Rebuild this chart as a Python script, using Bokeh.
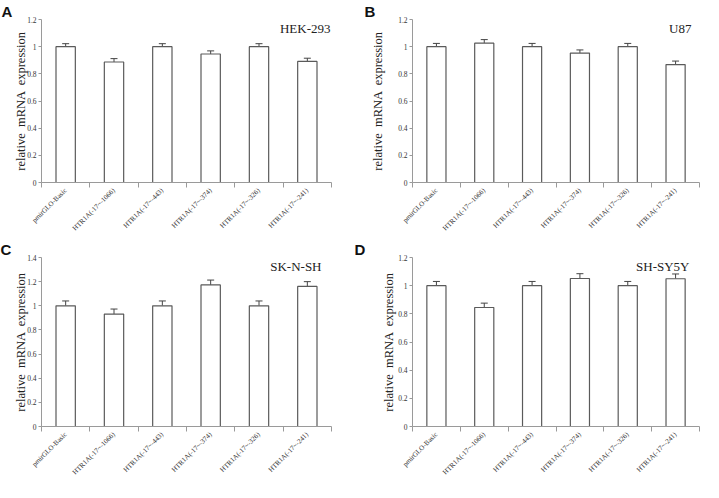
from bokeh.plotting import figure
from bokeh.layouts import gridplot
from bokeh.models import (ColumnDataSource, Whisker, Label, FixedTicker,
                          NumeralTickFormatter, CustomJSTickFormatter, TeeHead)
from bokeh.embed import file_html
from bokeh.resources import INLINE

categories = ["pmirGLO-Basic", "HTR1A(-17~-1066)", "HTR1A(-17~-443)",
              "HTR1A(-17~-374)", "HTR1A(-17~-326)", "HTR1A(-17~-241)"]

panel_letters = ["A", "B", "C", "D"]
cell_lines = ["HEK-293", "U87", "SK-N-SH", "SH-SY5Y"]
y_max = [1.2, 1.2, 1.4, 1.2]

hek_vals = [1.0, 0.887, 1.0, 0.946, 1.0, 0.891]
hek_err = [0.022, 0.025, 0.022, 0.023, 0.022, 0.024]
u87_vals = [1.0, 1.026, 1.0, 0.953, 1.0, 0.868]
u87_err = [0.024, 0.026, 0.024, 0.023, 0.024, 0.026]
sknsh_vals = [1.0, 0.931, 1.0, 1.173, 1.0, 1.160]
sknsh_err = [0.040, 0.042, 0.040, 0.040, 0.040, 0.040]
shsy5y_vals = [1.0, 0.845, 1.0, 1.051, 1.0, 1.049]
shsy5y_err = [0.030, 0.031, 0.030, 0.034, 0.030, 0.034]

values = [hek_vals, u87_vals, sknsh_vals, shsy5y_vals]
errors = [hek_err, u87_err, sknsh_err, shsy5y_err]

# layout: (height, min_border_left, right, bottom, title_offset, ylabel_standoff, name_x_offset, min_border_top)
layout = [(238, 40, 20, 56, -40, -4, -1, 0),
          (238, 51, 3, 56, -48, 10, -8, 0),
          (244, 41, 2, 50, -41, -4, -10, 0),
          (244, 61, 2, 50, -58, -1, -10, 4)]

SERIF = "Liberation Serif"
AXIS_COL = "#9a9a9a"
TEXT_COL = "#333333"

label_js = CustomJSTickFormatter(args=dict(names=categories),
                                 code="return names[Math.round(tick)];")

figs = []
for k in range(4):
    n = len(categories)
    xs = list(range(n))
    vals = values[k]
    errs = errors[k]
    src = ColumnDataSource(dict(x=xs, top=vals, up=[v + e for v, e in zip(vals, errs)]))
    h, bl, br, bb, toff, lstand, nxo, bt = layout[k]
    p = figure(width=351, height=h, output_backend="svg", toolbar_location=None,
               x_range=(-0.5, n - 0.5), y_range=(0, y_max[k]),
               min_border_left=bl, min_border_right=br,
               min_border_top=bt, min_border_bottom=bb,
               tools="", title=panel_letters[k])
    p.title.text_font = "Liberation Sans"
    p.title.text_font_style = "bold"
    p.title.text_font_size = "15px"
    p.title.text_color = "#111111"
    p.title.align = "left"
    p.title.offset = toff
    p.title.standoff = 0
    p.outline_line_color = None
    p.xgrid.visible = False
    p.ygrid.visible = False
    p.background_fill_color = "white"

    p.vbar(x="x", top="top", width=0.4, source=src, fill_color="white",
           line_color="#5a5a5a", line_width=1.2)
    w = Whisker(base="x", lower="top", upper="up", source=src,
                line_color="#444444", line_width=1,
                upper_head=TeeHead(size=7, line_color="#444444", line_width=1),
                lower_head=None)
    p.add_layout(w)

    # x axis
    xa = p.xaxis[0]
    xa.ticker = FixedTicker(ticks=xs, minor_ticks=[i + 0.5 for i in range(-1, n)])
    xa.formatter = label_js
    xa.major_tick_line_color = None
    xa.minor_tick_line_color = AXIS_COL
    xa.minor_tick_out = 5
    xa.minor_tick_in = 0
    xa.axis_line_color = AXIS_COL
    xa.major_label_orientation = 0.785
    xa.major_label_text_font = SERIF
    xa.major_label_text_font_size = "7px"
    xa.major_label_text_color = TEXT_COL
    xa.major_label_standoff = 1

    # y axis
    ya = p.yaxis[0]
    ya.ticker = FixedTicker(ticks=[round(0.2 * i, 1) for i in range(int(round(y_max[k] / 0.2)) + 1)])
    ya.formatter = NumeralTickFormatter(format="0.[0]")
    ya.minor_tick_line_color = None
    ya.major_tick_line_color = AXIS_COL
    ya.major_tick_out = 3
    ya.major_tick_in = 0
    ya.axis_line_color = AXIS_COL
    ya.major_label_text_font = SERIF
    ya.major_label_text_font_size = "7.5px"
    ya.major_label_text_color = TEXT_COL
    ya.major_label_standoff = 2
    ya.axis_label = "relative \u00a0mRNA \u00a0expression"
    ya.axis_label_text_font = SERIF
    ya.axis_label_text_font_size = "12.5px"
    ya.axis_label_text_font_style = "normal"
    ya.axis_label_text_color = "#222222"
    ya.axis_label_standoff = lstand

    p.add_layout(Label(x=n - 0.5, y=y_max[k], x_offset=nxo, y_offset=-1,
                       text=cell_lines[k], text_align="right", text_baseline="top",
                       text_font=SERIF, text_font_size="13px", text_color="#222222"))
    figs.append(p)

grid = gridplot([[figs[0], figs[1]], [figs[2], figs[3]]], toolbar_location=None)

open("out.html", "w").write(file_html(grid, INLINE))
